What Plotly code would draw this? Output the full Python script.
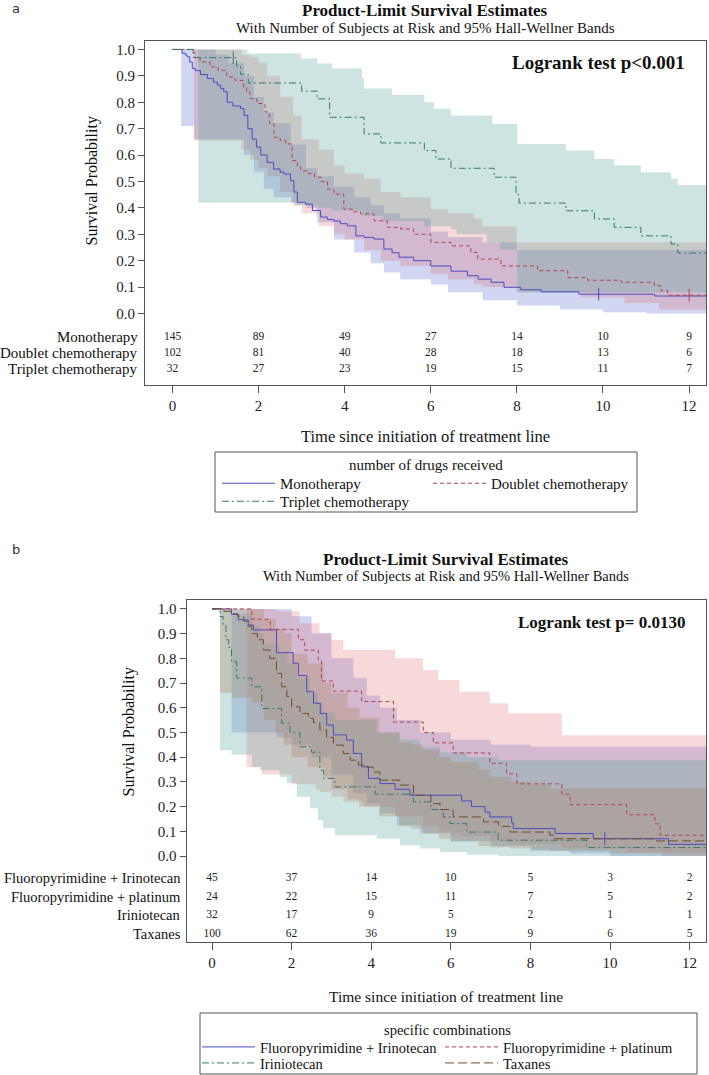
import plotly.graph_objects as go

# ------------------------------------------------------------------ data ----
RISK_TIMES = [0, 2, 4, 6, 8, 10, 12]

# Panel a : number of drugs received
A_GROUPS = ["Monotherapy", "Doublet chemotherapy", "Triplet chemotherapy"]
A_RISK_MONO = [145, 89, 49, 27, 14, 10, 9]
A_RISK_DOUB = [102, 81, 40, 28, 18, 13, 6]
A_RISK_TRIP = [32, 27, 23, 19, 15, 11, 7]

a_mono_t = [0, 0.22, 0.30, 0.34, 0.40, 0.46, 0.53, 0.65, 0.81, 0.95, 1.04, 1.12, 1.19, 1.27, 1.40, 1.58,
            1.66, 1.75, 1.85, 1.95, 2.05, 2.20, 2.35, 2.50, 2.59, 2.74, 2.82, 2.90, 3.09, 3.25, 3.44, 3.60,
            3.75, 3.90, 4.06, 4.26, 4.45, 4.68, 4.91, 5.10, 5.26, 5.60, 6.00, 6.47, 6.85, 7.10, 7.40, 7.70,
            8.09, 8.56, 9.44, 11.20, 12.60]
a_mono_s = [1.000, 0.986, 0.979, 0.972, 0.952, 0.928, 0.920, 0.905, 0.890, 0.876, 0.865, 0.852, 0.840, 0.800,
            0.786, 0.776, 0.750, 0.700, 0.660, 0.630, 0.600, 0.572, 0.547, 0.535, 0.528, 0.503, 0.460, 0.421,
            0.414, 0.390, 0.365, 0.356, 0.350, 0.340, 0.332, 0.294, 0.288, 0.282, 0.244, 0.230, 0.213, 0.200,
            0.180, 0.160, 0.143, 0.130, 0.118, 0.099, 0.090, 0.082, 0.073, 0.066, 0.066]
a_doub_t = [0, 0.48, 0.64, 0.87, 1.06, 1.26, 1.45, 1.65, 1.72, 1.80, 1.96, 2.15, 2.25, 2.36, 2.50, 2.63, 2.78,
            2.90, 2.98, 3.15, 3.30, 3.45, 3.60, 3.75, 3.98, 4.20, 4.37, 4.68, 4.99, 5.30, 5.60, 6.00, 6.47,
            6.93, 7.09, 7.63, 8.48, 9.18, 9.64, 10.42, 11.19, 11.35, 11.50, 12.60]
a_doub_s = [1.000, 0.970, 0.953, 0.934, 0.921, 0.896, 0.883, 0.858, 0.839, 0.814, 0.795, 0.763, 0.720, 0.667,
            0.655, 0.642, 0.579, 0.560, 0.540, 0.530, 0.516, 0.500, 0.471, 0.452, 0.395, 0.385, 0.377, 0.351,
            0.326, 0.320, 0.300, 0.269, 0.256, 0.231, 0.206, 0.180, 0.162, 0.136, 0.126, 0.118, 0.105, 0.086,
            0.069, 0.069]
a_trip_t = [0, 0.52, 1.49, 1.58, 1.76, 3.00, 3.36, 3.65, 4.45, 4.84, 5.85, 6.12, 6.47, 7.47, 7.98, 8.05, 9.14,
            9.80, 10.26, 10.88, 11.58, 11.74, 12.60]
a_trip_s = [1.000, 0.969, 0.938, 0.906, 0.873, 0.842, 0.813, 0.743, 0.680, 0.646, 0.617, 0.585, 0.550, 0.516,
            0.450, 0.418, 0.389, 0.358, 0.326, 0.294, 0.263, 0.229, 0.229]

a_mono_cens_t, a_mono_cens_s = [9.90], [0.073]
a_doub_cens_t, a_doub_cens_s = [12.00], [0.069]
a_trip_cens_t, a_trip_cens_s = [1.41], [0.969]

# Hall-Wellner bands, panel a
a_mono_bt = [0.20, 0.50, 1.00, 1.30, 1.66, 1.89, 2.12, 2.35, 2.75, 3.10, 3.36, 3.75, 4.22, 4.60, 4.91, 5.29,
             6.00, 6.40, 7.20, 8.00, 9.00, 10.00, 11.00, 12.60]
a_mono_hi = [1.00, 1.00, 0.98, 0.95, 0.90, 0.82, 0.76, 0.72, 0.64, 0.55, 0.52, 0.48, 0.44, 0.41, 0.38, 0.36,
             0.31, 0.29, 0.27, 0.24, 0.24, 0.24, 0.24, 0.24]
a_mono_lo = [0.71, 0.66, 0.66, 0.66, 0.60, 0.535, 0.471, 0.44, 0.42, 0.40, 0.345, 0.28, 0.231, 0.19, 0.155,
             0.13, 0.11, 0.08, 0.05, 0.03, 0.015, 0.005, 0.0, 0.0]
a_doub_bt = [0.50, 0.60, 1.60, 1.80, 2.00, 2.20, 2.50, 2.80, 3.00, 3.40, 3.75, 4.00, 4.45, 4.84, 5.30, 6.00,
             6.40, 7.00, 7.20, 8.00, 9.50, 10.50, 11.30, 12.60]
a_doub_hi = [1.00, 1.00, 0.98, 0.97, 0.95, 0.90, 0.82, 0.75, 0.66, 0.62, 0.56, 0.53, 0.51, 0.46, 0.44, 0.395,
             0.38, 0.36, 0.33, 0.27, 0.27, 0.27, 0.27, 0.27]
a_doub_lo = [0.655, 0.655, 0.62, 0.58, 0.55, 0.52, 0.46, 0.41, 0.38, 0.33, 0.30, 0.28, 0.24, 0.20, 0.18, 0.15,
             0.13, 0.11, 0.10, 0.08, 0.06, 0.04, 0.015, 0.015]
a_trip_bt = [0.60, 1.74, 2.85, 2.98, 3.36, 3.70, 4.40, 4.45, 4.90, 5.10, 5.85, 6.07, 6.47, 6.60, 7.30, 7.43,
             7.60, 8.01, 9.14, 9.80, 10.26, 10.88, 11.58, 11.74, 12.60]
a_trip_hi = [1.00, 0.985, 0.985, 0.966, 0.947, 0.928, 0.89, 0.852, 0.852, 0.827, 0.80, 0.775, 0.75, 0.75, 0.75,
             0.718, 0.718, 0.642, 0.617, 0.585, 0.56, 0.535, 0.51, 0.487, 0.487]
a_trip_lo = [0.42, 0.42, 0.41, 0.41, 0.40, 0.39, 0.37, 0.37, 0.35, 0.35, 0.33, 0.33, 0.32, 0.30, 0.27, 0.27,
             0.24, 0.08, 0.08, 0.08, 0.08, 0.08, 0.08, 0.08, 0.08]

# Panel b : specific combinations
B_GROUPS = ["Fluoropyrimidine + Irinotecan", "Fluoropyrimidine + platinum", "Iriniotecan", "Taxanes"]
B_RISK_FI = [45, 37, 14, 10, 5, 3, 2]
B_RISK_FP = [24, 22, 15, 11, 7, 5, 2]
B_RISK_IR = [32, 17, 9, 5, 2, 1, 1]
B_RISK_TX = [100, 62, 36, 19, 9, 6, 5]

b_fi_t = [0, 0.49, 0.66, 0.91, 1.04, 1.62, 2.04, 2.17, 2.38, 2.55, 2.72, 2.88, 3.05, 3.38, 3.55, 3.76, 3.93,
          4.22, 4.60, 4.97, 6.27, 6.52, 6.86, 6.98, 7.53, 7.57, 8.62, 9.58, 11.47, 12.60]
b_fi_s = [1.000, 0.978, 0.956, 0.935, 0.915, 0.823, 0.780, 0.730, 0.665, 0.618, 0.577, 0.530, 0.490, 0.469,
          0.415, 0.361, 0.314, 0.293, 0.270, 0.246, 0.223, 0.200, 0.178, 0.158, 0.134, 0.111, 0.091, 0.070,
          0.047, 0.047]
b_fp_t = [0, 1.00, 1.46, 2.17, 2.33, 2.67, 2.75, 3.05, 3.76, 4.56, 5.31, 5.56, 6.06, 6.98, 7.40, 7.66, 8.79,
          9.00, 10.42, 11.13, 11.26, 12.60]
b_fp_s = [1.000, 0.958, 0.917, 0.875, 0.833, 0.790, 0.708, 0.667, 0.625, 0.542, 0.500, 0.458, 0.417, 0.375,
          0.333, 0.292, 0.250, 0.208, 0.167, 0.130, 0.084, 0.084]
b_ir_t = [0, 0.20, 0.28, 0.35, 0.42, 0.49, 0.62, 1.00, 1.25, 1.75, 1.96, 2.21, 2.50, 2.71, 2.80, 3.09, 4.10,
          5.06, 5.50, 5.81, 5.98, 6.40, 7.19, 9.41, 12.60]
b_ir_s = [1.000, 0.969, 0.938, 0.875, 0.844, 0.786, 0.720, 0.685, 0.597, 0.537, 0.500, 0.442, 0.420, 0.347,
          0.314, 0.280, 0.250, 0.219, 0.188, 0.158, 0.131, 0.097, 0.064, 0.034, 0.034]
b_tx_t = [0, 0.30, 0.50, 0.65, 0.80, 0.90, 1.00, 1.14, 1.29, 1.45, 1.62, 1.75, 1.88, 2.00, 2.21, 2.42, 2.55,
          2.71, 2.88, 3.05, 3.30, 3.47, 3.68, 3.90, 4.05, 4.22, 4.72, 5.06, 5.50, 5.73, 6.06, 6.82, 7.20, 7.49,
          8.49, 8.60, 11.09, 12.60]
b_tx_s = [1.000, 0.990, 0.980, 0.970, 0.950, 0.930, 0.900, 0.875, 0.834, 0.800, 0.739, 0.685, 0.645, 0.604,
          0.577, 0.557, 0.540, 0.510, 0.480, 0.449, 0.415, 0.388, 0.368, 0.360, 0.340, 0.307, 0.287, 0.246,
          0.212, 0.188, 0.158, 0.138, 0.120, 0.097, 0.084, 0.070, 0.061, 0.061]

b_fi_cens_t, b_fi_cens_s = [9.87], [0.070]

# Hall-Wellner bands, panel b
b_fi_bt = [0.49, 1.62, 2.00, 2.50, 3.00, 3.55, 3.89, 4.22, 4.64, 5.23, 6.00, 7.00, 8.00, 9.00, 10.00, 12.60]
b_fi_hi = [1.00, 1.00, 0.97, 0.90, 0.80, 0.72, 0.65, 0.60, 0.55, 0.50, 0.47, 0.45, 0.442, 0.442, 0.442, 0.442]
b_fi_lo = [0.50, 0.48, 0.45, 0.40, 0.33, 0.254, 0.213, 0.173, 0.124, 0.092, 0.06, 0.04, 0.02, 0.01, 0.0, 0.0]
b_fp_bt = [0.87, 1.25, 1.62, 2.00, 2.20, 2.60, 2.70, 3.00, 3.30, 3.80, 4.60, 5.30, 5.69, 6.00, 6.22, 6.98,
           7.44, 8.79, 10.42, 11.30, 12.60]
b_fp_hi = [1.00, 1.00, 0.99, 0.99, 0.942, 0.942, 0.902, 0.874, 0.834, 0.834, 0.80, 0.753, 0.712, 0.712, 0.665,
           0.618, 0.577, 0.489, 0.489, 0.489, 0.489]
b_fp_lo = [0.36, 0.33, 0.33, 0.29, 0.29, 0.27, 0.26, 0.24, 0.22, 0.20, 0.16, 0.12, 0.10, 0.09, 0.08, 0.06,
           0.05, 0.03, 0.015, 0.0, 0.0]
b_ir_bt = [0.20, 0.49, 1.00, 1.20, 1.30, 1.70, 1.88, 2.13, 2.46, 2.66, 2.79, 3.09, 4.14, 4.72, 5.23, 5.73,
           6.40, 7.20, 12.60]
b_ir_hi = [1.00, 0.98, 0.93, 0.90, 0.86, 0.82, 0.78, 0.72, 0.66, 0.62, 0.58, 0.55, 0.50, 0.47, 0.44, 0.42,
           0.40, 0.388, 0.388]
b_ir_lo = [0.428, 0.41, 0.36, 0.347, 0.347, 0.32, 0.295, 0.24, 0.193, 0.145, 0.112, 0.084, 0.07, 0.043, 0.03,
           0.016, 0.005, 0.0, 0.0]
b_tx_bt = [0.20, 0.50, 1.00, 1.30, 1.60, 1.80, 2.00, 2.40, 2.80, 3.00, 3.40, 3.70, 4.20, 4.70, 5.00, 5.30,
           5.70, 6.00, 6.70, 7.00, 7.50, 8.00, 8.50, 10.00, 12.60]
b_tx_hi = [1.00, 1.00, 1.00, 0.96, 0.92, 0.90, 0.82, 0.78, 0.70, 0.66, 0.60, 0.56, 0.50, 0.46, 0.45, 0.43,
           0.40, 0.38, 0.35, 0.32, 0.30, 0.29, 0.273, 0.273, 0.273]
b_tx_lo = [0.66, 0.64, 0.62, 0.55, 0.50, 0.45, 0.40, 0.36, 0.32, 0.27, 0.23, 0.20, 0.16, 0.12, 0.11, 0.09,
           0.07, 0.06, 0.04, 0.035, 0.03, 0.025, 0.02, 0.01, 0.01]

Y_TICKS = [0.0, 0.1, 0.2, 0.3, 0.4, 0.5, 0.6, 0.7, 0.8, 0.9, 1.0]

# ----------------------------------------------------------------- style ----
W, H = 709, 1075
SERIF = "Liberation Serif"
BLUE, RED, TEAL, BROWN = "#4b4cc4", "#b3414c", "#2f7a70", "#6e4c2c"
F_BLUE = "rgba(90,110,210,0.28)"
F_RED = "rgba(220,80,80,0.22)"
F_TEAL = "rgba(90,165,160,0.30)"
F_BROWN = "rgba(170,130,90,0.30)"
D_RED, D_TEAL, D_BROWN = "4px,3px", "7px,3px,2px,3px", "9px,4px"
AXC = "#555555"


def px(x):
    return x / W


def py(y):
    return 1 - y / H


fig = go.Figure()


def add_band(t, lo, hi, color, xa, ya):
    fig.add_trace(go.Scatter(x=t, y=hi, mode="lines", line=dict(width=0, shape="hv"),
                             hoverinfo="skip", showlegend=False, xaxis=xa, yaxis=ya))
    fig.add_trace(go.Scatter(x=t, y=lo, mode="lines", line=dict(width=0, shape="hv"),
                             fill="tonexty", fillcolor=color, hoverinfo="skip",
                             showlegend=False, xaxis=xa, yaxis=ya))


def add_curve(t, s, name, color, dash, legend, xa, ya):
    fig.add_trace(go.Scatter(x=t, y=s, mode="lines", name=name,
                             line=dict(color=color, width=1, dash=dash, shape="hv"),
                             legend=legend, xaxis=xa, yaxis=ya))


def add_cens(t, s, color, xa, ya):
    fig.add_trace(go.Scatter(x=t, y=s, mode="markers", showlegend=False, xaxis=xa, yaxis=ya,
                             marker=dict(symbol="line-ns", size=9, line=dict(width=1, color=color))))


def add_risk(vals, yrow, xa, ya):
    fig.add_trace(go.Scatter(x=RISK_TIMES, y=[yrow] * len(vals), mode="text",
                             text=[str(v) for v in vals], showlegend=False, xaxis=xa, yaxis=ya,
                             textfont=dict(family=SERIF, size=11.5, color="#222")))


# ---- panel a ----
add_band(a_mono_bt, a_mono_lo, a_mono_hi, F_BLUE, "x", "y")
add_band(a_doub_bt, a_doub_lo, a_doub_hi, F_RED, "x", "y")
add_band(a_trip_bt, a_trip_lo, a_trip_hi, F_TEAL, "x", "y")
add_curve(a_mono_t, a_mono_s, A_GROUPS[0], BLUE, "solid", "legend", "x", "y")
add_curve(a_doub_t, a_doub_s, A_GROUPS[1], RED, D_RED, "legend", "x", "y")
add_curve(a_trip_t, a_trip_s, A_GROUPS[2], TEAL, D_TEAL, "legend2", "x", "y")
add_cens(a_mono_cens_t, a_mono_cens_s, BLUE, "x", "y")
add_cens(a_doub_cens_t, a_doub_cens_s, RED, "x", "y")
add_cens(a_trip_cens_t, a_trip_cens_s, TEAL, "x", "y")

A_ROWS = [-0.089, -0.150, -0.211]
for vals, yr in zip([A_RISK_MONO, A_RISK_DOUB, A_RISK_TRIP], A_ROWS):
    add_risk(vals, yr, "x", "y")

# ---- panel b ----
add_band(b_fi_bt, b_fi_lo, b_fi_hi, F_BLUE, "x2", "y2")
add_band(b_fp_bt, b_fp_lo, b_fp_hi, F_RED, "x2", "y2")
add_band(b_ir_bt, b_ir_lo, b_ir_hi, F_TEAL, "x2", "y2")
add_band(b_tx_bt, b_tx_lo, b_tx_hi, F_BROWN, "x2", "y2")
add_curve(b_fi_t, b_fi_s, B_GROUPS[0], BLUE, "solid", "legend3", "x2", "y2")
add_curve(b_fp_t, b_fp_s, B_GROUPS[1], RED, D_RED, "legend3", "x2", "y2")
add_curve(b_ir_t, b_ir_s, B_GROUPS[2], TEAL, D_TEAL, "legend4", "x2", "y2")
add_curve(b_tx_t, b_tx_s, B_GROUPS[3], BROWN, D_BROWN, "legend4", "x2", "y2")
add_cens(b_fi_cens_t, b_fi_cens_s, BLUE, "x2", "y2")

B_ROWS = [-0.089, -0.166, -0.239, -0.316]
for vals, yr in zip([B_RISK_FI, B_RISK_FP, B_RISK_IR, B_RISK_TX], B_ROWS):
    add_risk(vals, yr, "x2", "y2")

# ---- axes ----
tickfont = dict(family=SERIF, size=15, color="#222")
common_x = dict(showgrid=False, zeroline=False, showline=True, mirror=True, linecolor=AXC, linewidth=1,
                ticks="outside", ticklen=7, tickcolor=AXC, tickvals=RISK_TIMES, tickfont=tickfont)
common_y = dict(showgrid=False, zeroline=False, showline=True, mirror=True, linecolor=AXC, linewidth=1,
                ticks="outside", ticklen=6, tickcolor=AXC, tickvals=Y_TICKS,
                ticktext=[f"{v:.1f}" for v in Y_TICKS], tickfont=tickfont)

fig.update_layout(
    xaxis=dict(domain=[px(145), px(706)], range=[-0.639, 12.393], anchor="y", **common_x),
    yaxis=dict(domain=[py(385), py(41)], range=[-0.271, 1.032], anchor="x", **common_y),
    xaxis2=dict(domain=[px(186.5), px(706)], range=[-0.641, 12.412], anchor="y2", **common_x),
    yaxis2=dict(domain=[py(942), py(600)], range=[-0.348, 1.036], anchor="x2", **common_y),
)

# ---- annotations ----
ann = []


def text(x, y, s, size, bold=False, xanchor="center", yanchor="middle", family=SERIF, xref="paper",
         yref="paper", angle=0, color="#111"):
    ann.append(dict(x=x, y=y, xref=xref, yref=yref, text=f"<b>{s}</b>" if bold else s, showarrow=False,
                    xanchor=xanchor, yanchor=yanchor, textangle=angle,
                    font=dict(family=family, size=size, color=color)))


text(px(10), py(9), "a", 13, xanchor="left", family="DejaVu Sans", color="#333")
text(px(425.5), py(11), "Product-Limit Survival Estimates", 17, bold=True)
text(px(425.5), py(28), "With Number of Subjects at Risk and 95% Hall-Wellner Bands", 15)
text(px(687), py(63), "Logrank test p&lt;0.001", 19, bold=True, xanchor="right")
text(px(92), 0.5, "Survival Probability", 16, yref="y", angle=-90)
text(px(425.5), py(436), "Time since initiation of treatment line", 16.5)
text(px(426), py(465), "number of drugs received", 15)
for lab, yr in zip(A_GROUPS, A_ROWS):
    text(px(140), yr, lab, 15, xanchor="right", yref="y")

text(px(10), py(549), "b", 13, xanchor="left", family="DejaVu Sans", color="#333")
text(px(446), py(559), "Product-Limit Survival Estimates", 17, bold=True)
text(px(446), py(576), "With Number of Subjects at Risk and 95% Hall-Wellner Bands", 14.5)
text(px(687), py(622), "Logrank test p= 0.0130", 17, bold=True, xanchor="right")
text(px(129), 0.5, "Survival Probability", 16, yref="y2", angle=-90)
text(px(446), py(996), "Time since initiation of treatment line", 15.5)
text(px(447), py(1030), "specific combinations", 14.5)
for lab, yr in zip(B_GROUPS, B_ROWS):
    text(px(183), yr, lab, 14.5, xanchor="right", yref="y2")


# ---- legends ----
def leg(x, y, ew, size=15):
    return dict(orientation="h", x=px(x), y=py(y), xanchor="left", yanchor="top", itemwidth=53,
                entrywidth=ew, entrywidthmode="pixels", bgcolor="rgba(0,0,0,0)", borderwidth=0,
                traceorder="normal", font=dict(family=SERIF, size=size, color="#111"), tracegroupgap=0,
                itemclick=False, itemdoubleclick=False)


fig.update_layout(
    legend=leg(217, 467, 143),
    legend2=leg(217, 485, 143),
    legend3=leg(197, 1031, 175, 14.5),
    legend4=leg(197, 1047, 175, 14.5),
)

shapes = [
    dict(type="rect", xref="paper", yref="paper", x0=px(215), x1=px(637), y0=py(452), y1=py(512),
         line=dict(color=AXC, width=1)),
    dict(type="rect", xref="paper", yref="paper", x0=px(200), x1=px(697), y0=py(1013), y1=py(1074),
         line=dict(color=AXC, width=1)),
]

fig.update_layout(
    width=W, height=H, autosize=False, margin=dict(l=0, r=0, t=0, b=0, autoexpand=False),
    paper_bgcolor="white", plot_bgcolor="white", annotations=ann, shapes=shapes,
    hovermode=False,
)

fig.write_html("out.html", config={"displayModeBar": False},
               post_script="document.body.style.margin='0px';document.body.style.overflow='hidden';")
